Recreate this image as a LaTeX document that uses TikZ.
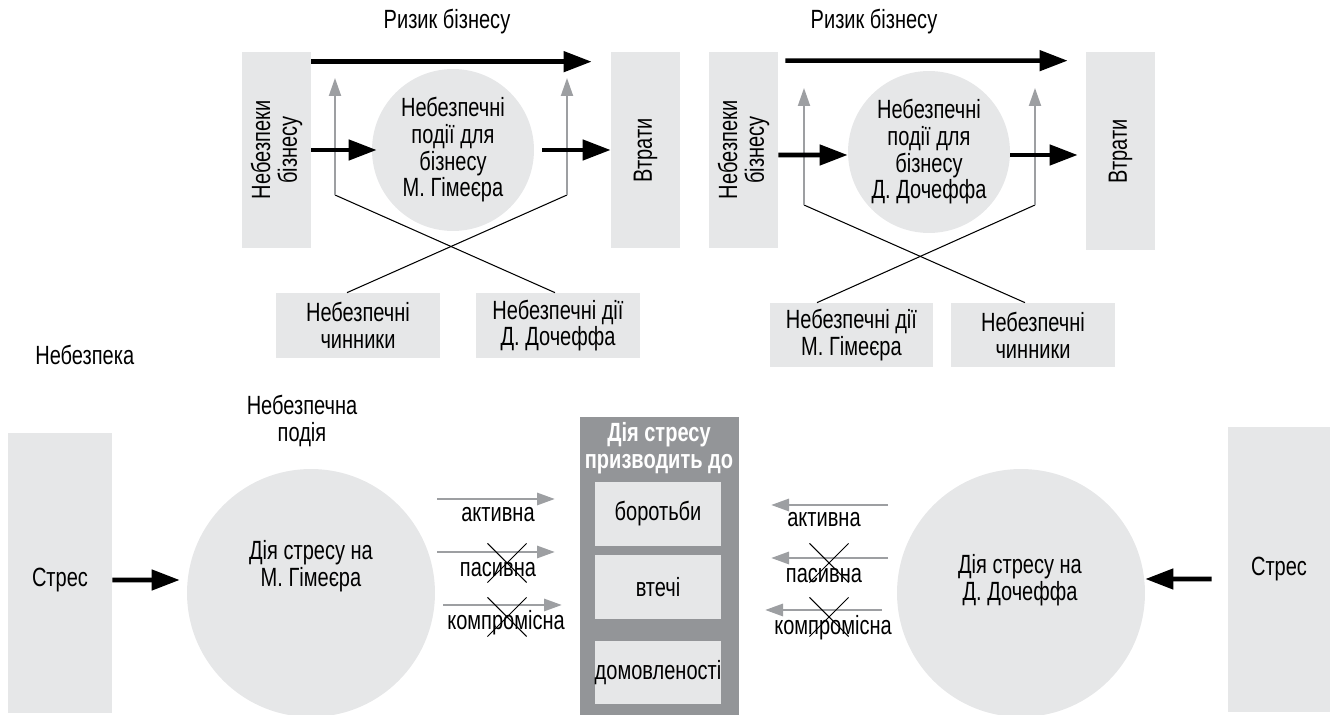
\documentclass[tikz,border=0pt]{standalone}
\usepackage{fontspec}
\setmainfont[FakeStretch=0.76]{Liberation Sans}
\usetikzlibrary{arrows.meta,shapes.misc}
\definecolor{lightbox}{HTML}{E6E7E8}
\definecolor{darkbox}{HTML}{939598}
\definecolor{arrgray}{HTML}{9D9FA2}

\begin{document}
\begin{tikzpicture}[x=0.02cm,y=-0.02cm]
\tikzstyle{every node}=[font=\fontsize{15}{15.2}\selectfont, align=center, inner sep=0pt]
\tikzstyle{box}=[fill=lightbox, rectangle]
\tikzstyle{disc}=[fill=lightbox, circle]
\tikzstyle{bigarr}=[line width=2.6pt, -{Triangle[length=0.56cm,width=0.4cm]}]
\tikzstyle{grayarr}=[arrgray, line width=1.1pt, -{Triangle[length=0.36cm,width=0.24cm]}]
\tikzstyle{wayarr}=[arrgray, line width=1.7pt, -{Triangle[length=0.36cm,width=0.24cm]}]
\tikzstyle{xmark}=[draw, cross out, line width=0.6pt, minimum width=0.76cm, minimum height=0.76cm]
\useasboundingbox (0,0) rectangle (1330,715);

% business risk, M. Gimeyer
\node (riskA) at (447,22) {Ризик бізнесу};
\node[box, minimum width=1.38cm, minimum height=3.92cm] (nbA) at (276.5,150) {};
\node[rotate=90] at (nbA) {Небезпеки\\бізнесу};
\node[box, minimum width=1.38cm, minimum height=3.92cm] (lossA) at (645.5,150) {};
\node[rotate=90] at (lossA) {Втрати};
\node[disc, minimum size=3.24cm] (circA) at (453,150) {Небезпечні\\події для\\бізнесу\\М. Гімеєра};
\node[box, minimum width=3.28cm, minimum height=1.3cm] (facA) at (358,325.5) {Небезпечні\\чинники};
\node[box, minimum width=3.28cm, minimum height=1.3cm] (actA) at (558,325.5) {Небезпечні дії\\Д. Дочеффа};
\coordinate (fA1) at (335,195);
\coordinate (fA1t) at (335,78);
\coordinate (fA2) at (567,195);
\coordinate (fA2t) at (567,78);
\draw[line width=0.6pt] ([xshift=-0.22cm]facA.north) -- (fA2);
\draw[line width=0.6pt] ([xshift=-0.06cm]actA.north) -- (fA1);
\draw[grayarr] (fA1) -- (fA1t);
\draw[grayarr] (fA2) -- (fA2t);
\draw[bigarr] ([yshift=-0.2cm]nbA.north east) -- ([xshift=-0.38cm,yshift=-0.2cm]lossA.north west);
\draw[bigarr] (nbA.east) -- ([xshift=0.1cm]circA.west);
\draw[bigarr] ([xshift=0.16cm]circA.east) -- (lossA.west);

% business risk, D. Docheff
\node (riskB) at (874,22) {Ризик бізнесу};
\node[box, minimum width=1.38cm, minimum height=3.92cm] (nbB) at (743.5,150) {};
\node[rotate=90] at (nbB) {Небезпеки\\бізнесу};
\node[box, minimum width=1.38cm, minimum height=3.96cm] (lossB) at (1120.5,151) {};
\node[rotate=90] at (lossB) {Втрати};
\node[disc, minimum size=3.24cm] (circB) at (929,152) {Небезпечні\\події для\\бізнесу\\Д. Дочеффа};
\node[box, minimum width=3.26cm, minimum height=1.28cm] (actB) at (851.5,335) {Небезпечні дії\\М. Гімеєра};
\node[box, minimum width=3.28cm, minimum height=1.28cm] (facB) at (1033,335) {Небезпечні\\чинники};
\coordinate (fB1) at (804,205);
\coordinate (fB1t) at (804,88);
\coordinate (fB2) at (1035,205);
\coordinate (fB2t) at (1035,88);
\draw[line width=0.6pt] ([xshift=-0.69cm]actB.north) -- (fB2);
\draw[line width=0.6pt] ([xshift=-0.16cm]facB.north) -- (fB1);
\draw[grayarr] (fB1) -- (fB1t);
\draw[grayarr] (fB2) -- (fB2t);
\draw[bigarr] ([xshift=0.14cm,yshift=-0.18cm]nbB.north east) -- ([xshift=-0.36cm,yshift=-0.18cm]lossB.north west);
\draw[bigarr] ([yshift=-0.1cm]nbB.east) -- ([yshift=-0.06cm]circB.west);
\draw[bigarr] ([yshift=-0.06cm]circB.east) -- ([xshift=-0.16cm,yshift=-0.08cm]lossB.west);

% stress
\node[anchor=west] (danger) at (35,355) {Небезпека};
\node (event) at (302,421) {Небезпечна\\подія};
\node[box, minimum width=2.08cm, minimum height=5.6cm] (stresL) at (60,573) {};
\node (stresLtxt) at (60,580) {Стрес};
\node[disc, minimum size=4.96cm] (circL) at (311,593) {};
\node (circLtxt) at (311,566) {Дія стресу на\\М. Гімеєра};
\node[box, minimum width=2.04cm, minimum height=5.7cm] (stresR) at (1279,569.5) {Стрес};
\node[disc, minimum size=4.96cm] (circR) at (1021,593) {};
\node (circRtxt) at (1020,580) {Дія стресу на\\Д. Дочеффа};
\draw[bigarr] ([yshift=-0.14cm]stresL.east) -- ([xshift=-0.14cm,yshift=0.26cm]circL.west);
\draw[bigarr] ([xshift=-0.32cm,yshift=-0.19cm]stresR.west) -- ([yshift=0.28cm]circR.east);

\node[fill=darkbox, minimum width=3.18cm, minimum height=5.96cm] (resBox) at (659.5,566) {};
\node[text=white, font=\fontsize{15}{15.2}\selectfont\bfseries] (resTitle) at (659,448) {Дія стресу\\призводить до};
\node[box, minimum width=2.52cm, minimum height=1.28cm] (fight) at (658,514) {боротьби};
\node[box, minimum width=2.52cm, minimum height=1.28cm] (flee) at (658,587) {втечі};
\node[box, minimum width=2.52cm, minimum height=1.26cm] (agree) at (658,672.5) {домовленості};

% ways of reacting
\foreach \xa/\xb/\y/\xl/\yl/\t [count=\i] in {437/555/499/498/515/активна, 437/555/552/498/570/пасивна, 443/562/605/506/623/компромісна}{
  \coordinate (wl\i) at (\xa,\y);
  \coordinate (wl\i e) at (\xb,\y);
  \draw[wayarr] (wl\i) -- (wl\i e);
  \node (wlt\i) at (\xl,\yl) {\t};
}
\foreach \xa/\xb/\y/\xl/\yl/\t [count=\i] in {888/771/505/824/520/активна, 888/771/558/824/576/пасивна, 882/765/610/833/628/компромісна}{
  \coordinate (wr\i) at (\xa,\y);
  \coordinate (wr\i e) at (\xb,\y);
  \draw[wayarr] (wr\i) -- (wr\i e);
  \node (wrt\i) at (\xl,\yl) {\t};
}
\node[xmark] (noL1) at (507,563) {};
\node[xmark] (noL2) at (507,617) {};
\node[xmark] (noR1) at (829,563) {};
\node[xmark] (noR2) at (829,617) {};
\end{tikzpicture}
\end{document}
